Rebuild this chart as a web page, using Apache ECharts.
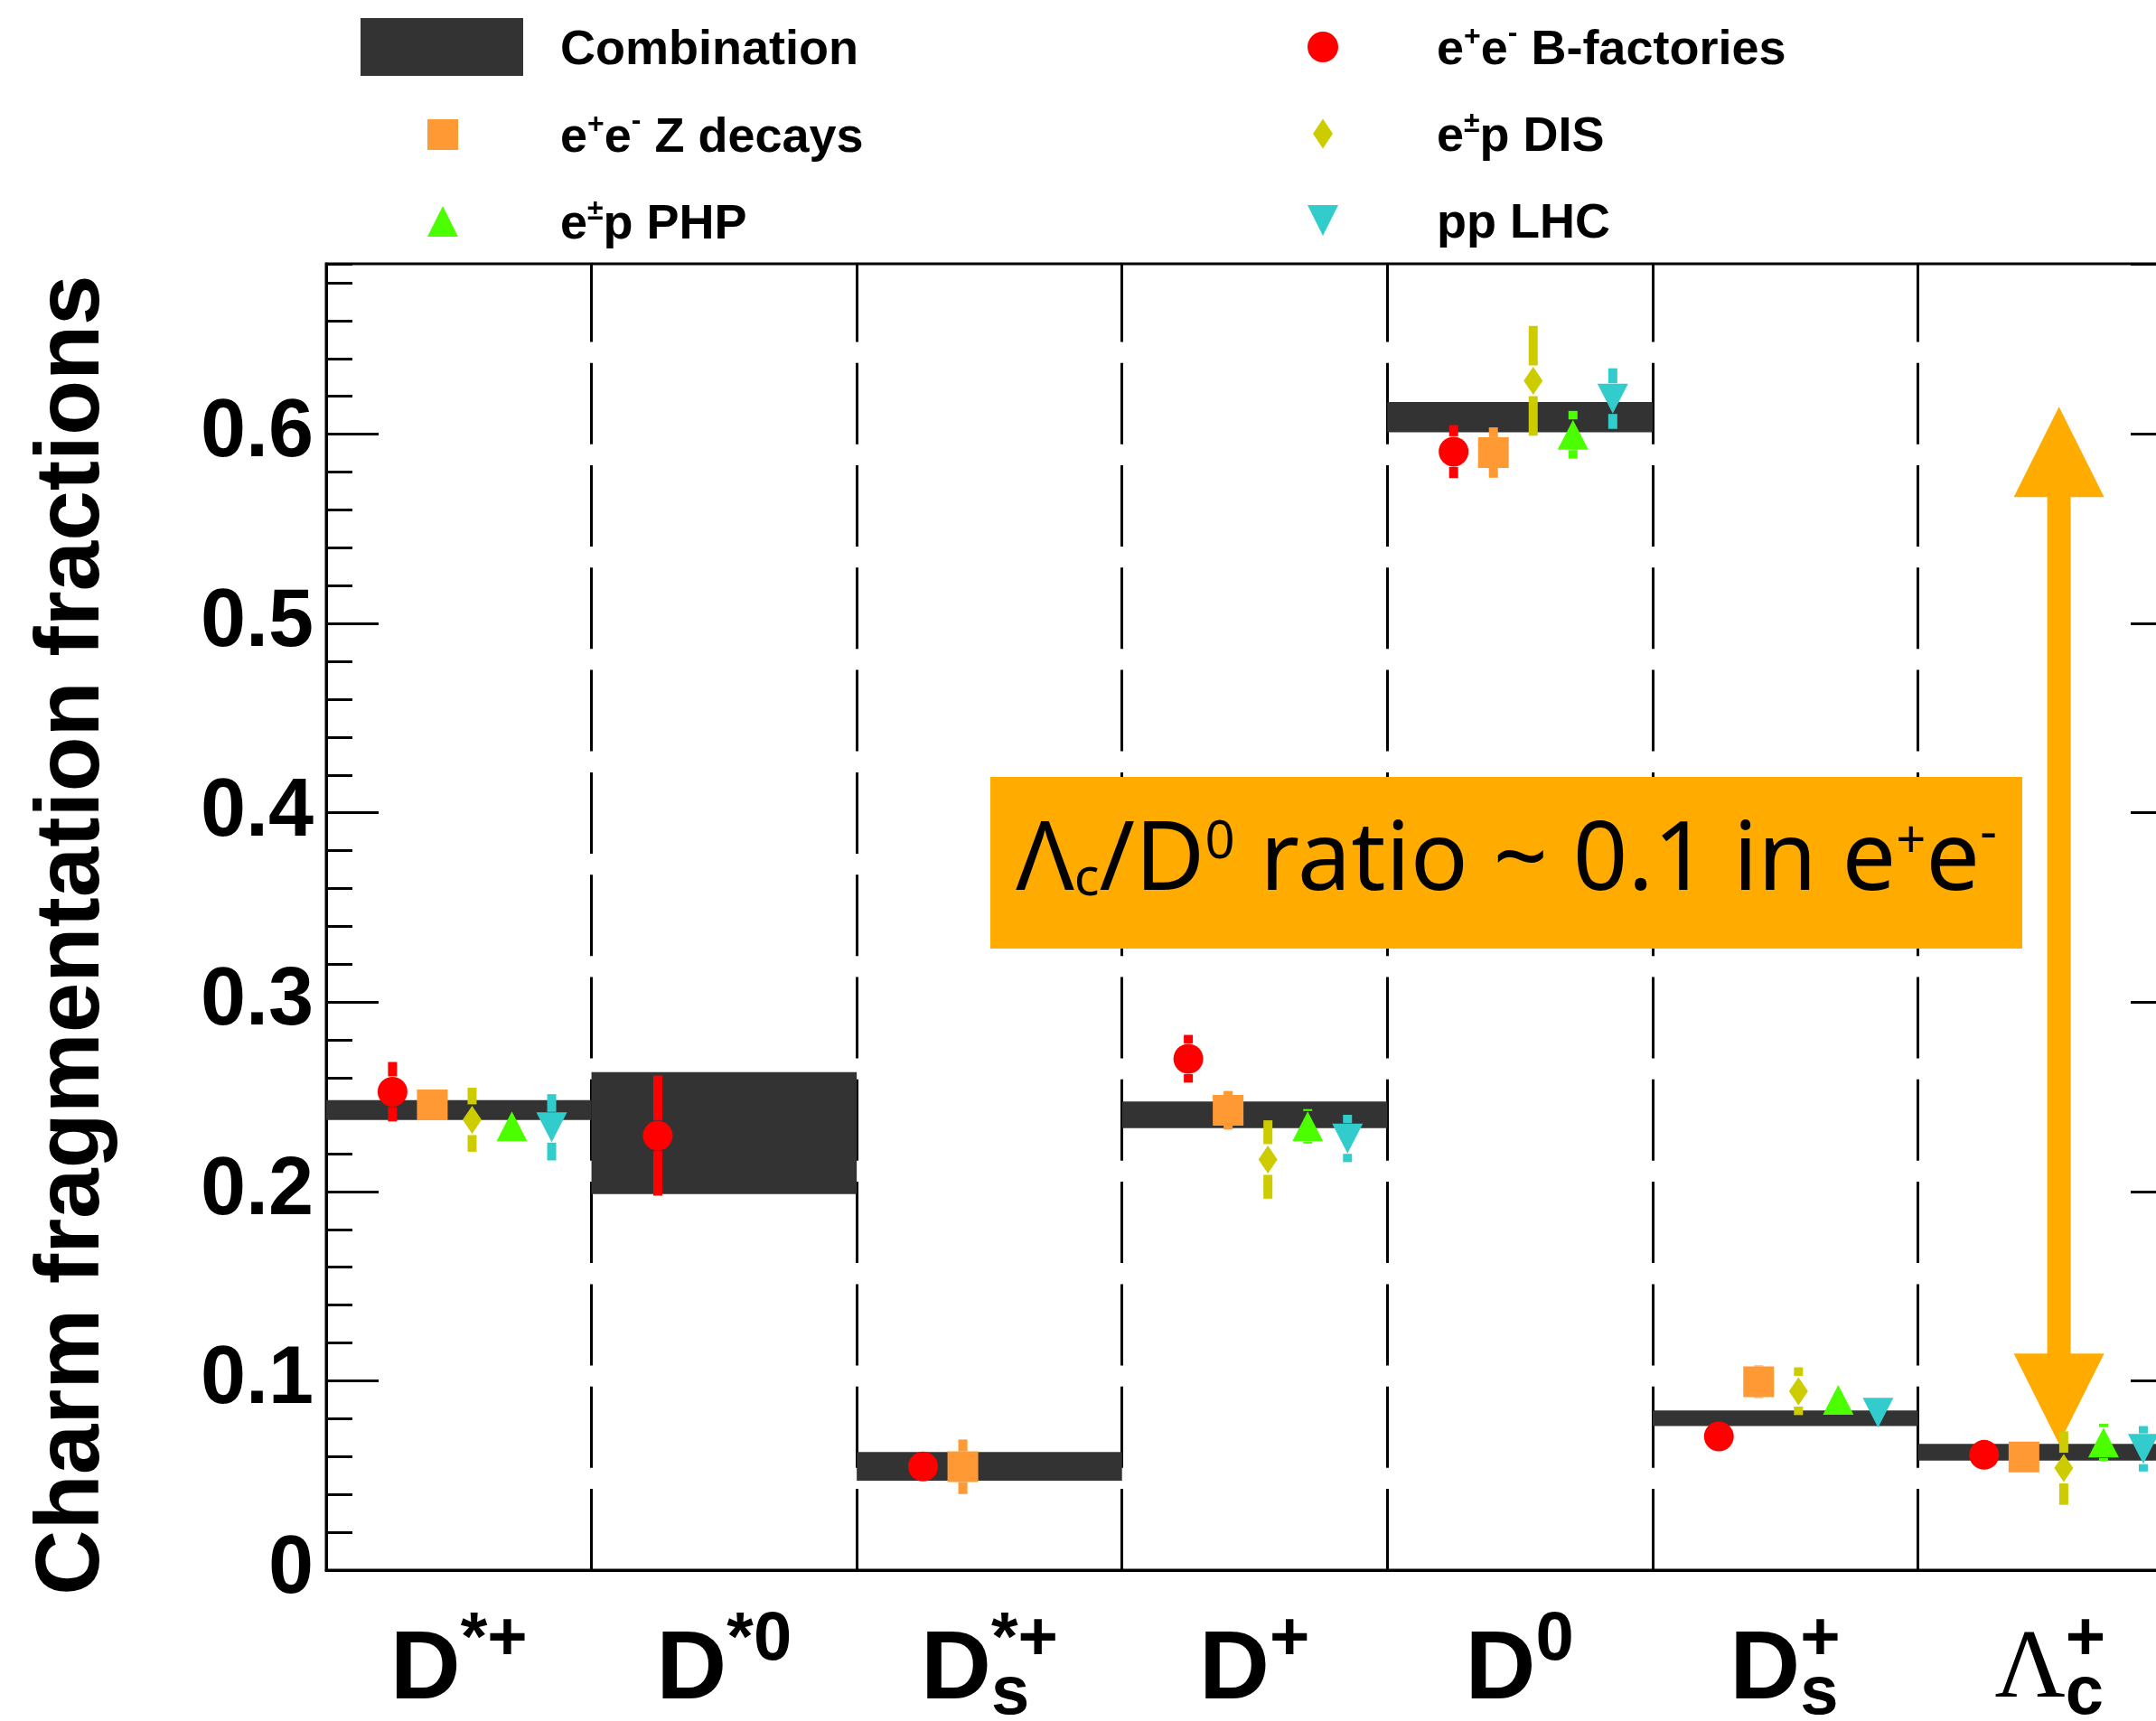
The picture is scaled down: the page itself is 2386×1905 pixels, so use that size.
<!DOCTYPE html>
<html>
<head>
<meta charset="utf-8">
<script src="https://cdn.jsdelivr.net/npm/echarts@6/dist/echarts.min.js"></script>
<style>
html,body{margin:0;padding:0;background:#ffffff;}
#c{width:2386px;height:1905px;}
</style>
</head>
<body>
<div id="c"></div>
<script>
// ---------------- data ----------------
const categories = ['D*+', 'D*0', 'Ds*+', 'D+', 'D0', 'Ds+', 'Λc+'];
const labelBase  = ['D', 'D', 'D', 'D', 'D', 'D', 'Λ'];
const labelSup   = ['*+', '*0', '*+', '+', '0', '+', '+'];
const labelSub   = ['', '', 's', '', '', 's', 'c'];

const combinationValue = [0.2430, 0.2308, 0.0548, 0.2405, 0.6090, 0.0802, 0.0623];
const combinationError = [0.0052, 0.0322, 0.0076, 0.0070, 0.0080, 0.0041, 0.0044];

const bFactoriesValue = [0.2527, 0.2295, 0.0547, 0.2701, 0.5908, 0.0706, 0.0609];
const bFactoriesError = [0.0157, 0.0317, 0.0050, 0.0126, 0.0140, 0.0040, 0.0040];
const zDecaysValue    = [0.2457, null, 0.0546, 0.2429, 0.5903, 0.0995, 0.0598];
const zDecaysError    = [0.0050, null, 0.0144, 0.0102, 0.0133, 0.0086, 0.0050];
const disValue        = [0.2379, null, null, 0.2169, 0.6282, 0.0945, 0.0539];
const disError        = [0.0169, null, null, 0.0207, 0.0290, 0.0126, 0.0194];
const phpValue        = [0.2344, null, null, 0.2344, 0.5997, 0.0899, 0.0674];
const phpError        = [0.0060, null, null, 0.0091, 0.0126, 0.0050, 0.0099];
const lhcValue        = [0.2339, null, null, 0.2280, 0.6188, 0.0831, 0.0641];
const lhcError        = [0.0175, null, null, 0.0125, 0.0160, 0.0050, 0.0120];

// Λc / D0 arrow: from the Λc level up to the D0 level
const ratioArrowRange = [0.0667, 0.6145];

const yAxisMin = 0;
const yAxisMax = 0.69;
const yMajorStep = 0.1;
const yMinorStep = 0.02;

const sourceNames  = ['e+e- B-factories', 'e+e- Z decays', 'e±p DIS', 'e±p PHP', 'pp LHC'];
const sourceLegend = ['e^{+}e^{-} B-factories', 'e^{+}e^{-} Z decays', 'e^{±}p DIS', 'e^{±}p PHP', 'pp LHC'];
const yTitle = 'Charm fragmentation fractions';

// ---------------- styling / layout ----------------
const FONT = '"Liberation Sans", Arial, Helvetica, sans-serif';
const SERIF = '"Liberation Serif", "Times New Roman", serif';
const NOTO = '"Noto Sans", "Open Sans", sans-serif';
const COL = {
  comb: '#333333', red: '#FF0000', orange: '#FF9933', olive: '#CCCC00',
  green: '#4CFF00', cyan: '#33CCCC', note: '#FFAB00'
};
const sourceColors = [COL.red, COL.orange, COL.olive, COL.green, COL.cyan];
const sourceShapes = ['circle', 'square', 'diamond', 'triangle', 'triangleDown'];
const sourceOffsets = [0.25, 0.40, 0.55, 0.70, 0.85];
const sourceValues = [bFactoriesValue, zDecaysValue, disValue, phpValue, lhcValue];
const sourceErrors = [bFactoriesError, zDecaysError, disError, phpError, lhcError];

const GRID = { left: 361, top: 292, width: 2055, height: 1446 };

// text measurement for aligning stacked super/subscripts
const mctx = document.createElement('canvas').getContext('2d');
function textWidth(t, font) { mctx.font = font; return mctx.measureText(t).width; }

// ---------------- category label rich styles ----------------
const catRich = {};
const supFontCss = 'bold 76px "Liberation Sans"';
categories.forEach((c, i) => {
  const serif = labelBase[i] === 'Λ';
  const baseStyle = serif
    ? { fontFamily: SERIF, fontWeight: 'normal', fontSize: 108 }
    : { fontFamily: FONT, fontWeight: 'bold', fontSize: 108 };
  const w = Math.ceil(Math.max(textWidth(labelSup[i], supFontCss), textWidth(labelSub[i], supFontCss), 1));
  catRich['g' + i] = Object.assign({}, baseStyle, { lineHeight: 14.6, color: 'rgba(0,0,0,0)', align: 'left' });
  catRich['m' + i] = Object.assign({}, baseStyle, { lineHeight: 53, color: '#000', align: 'left' });
  catRich['p' + i] = { fontFamily: FONT, fontWeight: 'bold', fontSize: 76, lineHeight: 14.6, width: w,
                       color: '#000', align: 'left' };
  catRich['b' + i] = { fontFamily: FONT, fontWeight: 'bold', fontSize: 76, lineHeight: 1, height: 1, width: w,
                       color: '#000', align: 'left', verticalAlign: 'bottom' };
});
function catLabel(v, i) {
  return '{g' + i + '|' + labelBase[i] + '}{p' + i + '|' + labelSup[i] + '}\n' +
         '{m' + i + '|' + labelBase[i] + '}{b' + i + '|' + labelSub[i] + '}';
}

// ---------------- legend helpers ----------------
function toRich(s) {
  return ('{t|' + s.replace(/\^\{([^}]*)\}/g, (m, g) => '}{' + (g === '-' ? 'supm' : 'sup') + '|' + g + '}{t|') + '}')
    .replace(/\{t\|\}/g, '');
}
const legendTextMap = { 'Combination': 'Combination' };
sourceNames.forEach((n, i) => { legendTextMap[n] = sourceLegend[i]; });

const LEG_H = 64;
function makeLegend(name, icon, left, top, w, pad) {
  return {
    show: true, data: [{ name: name, icon: icon }], left: left, top: top,
    itemWidth: w, itemHeight: LEG_H, padding: 0, itemGap: 0, selectedMode: false,
    orient: 'horizontal', symbolKeepAspect: true,
    itemStyle: { borderWidth: 0 },
    formatter: n => '{sp|}' + toRich(legendTextMap[n]),
    textStyle: {
      rich: {
        sp: { width: pad, lineHeight: 1, height: LEG_H, backgroundColor: 'transparent' },
        t: { fontFamily: FONT, fontWeight: 'bold', fontSize: 54, lineHeight: 29, height: 29,
             padding: [8, 0, 0, 0], color: '#000' },
        sup: { fontFamily: FONT, fontWeight: 'bold', fontSize: 32, lineHeight: 1, height: 1,
               padding: [0, 0, 22, 0], color: '#000' },
        supm: { fontFamily: FONT, fontWeight: 'bold', fontSize: 32, lineHeight: 1, height: 1,
               padding: [0, 0, 29, 0], color: '#000' }
      }
    }
  };
}
const ICON = {
  square: 'path://M0,0L10,0L10,10L0,10Z',
  triangle: 'path://M5,0L10,10L0,10Z',
  diamond: 'path://M5,0L10,7.5L5,15L0,7.5Z',
  triangleDown: 'path://M0,0L10,0L5,10Z'
};

// ---------------- marker drawing ----------------
function markerShape(shape, cx, cy, color) {
  const st = { fill: color };
  switch (shape) {
    case 'circle': return { type: 'circle', shape: { cx: cx, cy: cy, r: 16.5 }, style: st };
    case 'square': return { type: 'rect', shape: { x: cx - 17, y: cy - 17, width: 34, height: 34 }, style: st };
    case 'diamond': return { type: 'polygon', shape: { points: [[cx, cy - 15.5], [cx + 10.5, cy], [cx, cy + 15.5], [cx - 10.5, cy]] }, style: st };
    case 'triangle': return { type: 'polygon', shape: { points: [[cx, cy - 16.5], [cx + 17, cy + 16.5], [cx - 17, cy + 16.5]] }, style: st };
    default: return { type: 'polygon', shape: { points: [[cx - 17, cy - 16.5], [cx + 17, cy - 16.5], [cx, cy + 16.5]] }, style: st };
  }
}

function pointSeries(k) {
  const color = sourceColors[k], shape = sourceShapes[k], off = sourceOffsets[k];
  const data = [];
  sourceValues[k].forEach((v, i) => { if (v != null) data.push([i + off, v, sourceErrors[k][i]]); });
  return {
    type: 'custom', name: sourceNames[k], data: data, xAxisIndex: 0, yAxisIndex: 0, z: 6,
    itemStyle: { color: color }, encode: { x: 0, y: 1 }, silent: true,
    renderItem: (params, api) => {
      const x = api.value(0), y = api.value(1), e = api.value(2);
      const c = api.coord([x, y]);
      const top = api.coord([x, y + e])[1];
      const bot = api.coord([x, y - e])[1];
      const gap = 17, bw = 10;
      const children = [];
      if (c[1] - top > gap) children.push({ type: 'rect', shape: { x: c[0] - bw / 2, y: top, width: bw, height: c[1] - gap - top }, style: { fill: color } });
      if (bot - c[1] > gap) children.push({ type: 'rect', shape: { x: c[0] - bw / 2, y: c[1] + gap, width: bw, height: bot - c[1] - gap }, style: { fill: color } });
      children.push(markerShape(shape, c[0], c[1], color));
      return { type: 'group', children: children };
    }
  };
}

// ---------------- option ----------------
const series = [];
series.push({
  type: 'custom', name: 'Combination', xAxisIndex: 0, yAxisIndex: 0, z: 3, silent: true,
  itemStyle: { color: COL.comb }, encode: { x: 0, y: 1 },
  data: combinationValue.map((v, i) => [i, v, combinationError[i]]),
  renderItem: (params, api) => {
    const x = api.value(0), v = api.value(1), e = api.value(2);
    const a = api.coord([x, v + e]);
    const b = api.coord([x + 1, v - e]);
    return { type: 'rect', shape: { x: a[0], y: a[1], width: b[0] - a[0], height: b[1] - a[1] }, style: { fill: COL.comb } };
  }
});
series.push({
  type: 'custom', name: 'ratio arrow', xAxisIndex: 0, yAxisIndex: 0, z: 4, silent: true,
  itemStyle: { color: COL.note }, encode: { x: 0, y: 1 },
  data: [[6.532, ratioArrowRange[0], ratioArrowRange[1]]],
  renderItem: (params, api) => {
    const x = api.value(0);
    const b = api.coord([x, api.value(1)]);
    const t = api.coord([x, api.value(2)]);
    const hw = 50, hh = 100, sw = 13;
    return { type: 'group', children: [
      { type: 'rect', shape: { x: t[0] - sw, y: t[1] + hh - 1, width: 2 * sw, height: b[1] - t[1] - 2 * hh + 2 }, style: { fill: COL.note } },
      { type: 'polygon', shape: { points: [[t[0], t[1]], [t[0] + hw, t[1] + hh], [t[0] - hw, t[1] + hh]] }, style: { fill: COL.note } },
      { type: 'polygon', shape: { points: [[b[0], b[1]], [b[0] + hw, b[1] - hh], [b[0] - hw, b[1] - hh]] }, style: { fill: COL.note } }
    ] };
  }
});
for (let k = 0; k < 5; k++) series.push(pointSeries(k));

function yAxisDef(pos, step, tickLen, withLabels, withLine) {
  const ax = {
    type: 'value', position: pos, min: yAxisMin, max: yAxisMax, interval: step, gridIndex: 0,
    axisLine: { show: withLine, onZero: false, lineStyle: { color: '#000', width: 3 } },
    axisTick: { show: true, inside: true, length: tickLen, lineStyle: { color: '#000', width: 3 } },
    splitLine: { show: false },
    axisLabel: { show: withLabels, showMaxLabel: false, margin: 14, color: '#000',
      fontFamily: FONT, fontWeight: 'bold', fontSize: 90, padding: [8, 0, 0, 0],
      formatter: v => (Math.abs(v) < 1e-9 ? '0' : String(+v.toFixed(2))) }
  };
  if (withLabels) {
    Object.assign(ax, {
      name: yTitle, nameLocation: 'middle', nameGap: 230, nameRotate: 90, nameMoveOverlap: false,
      nameTextStyle: { fontFamily: FONT, fontWeight: 'bold', fontSize: 100, color: '#000', padding: [0, 40, 0, 0] }
    });
  }
  return ax;
}

const option = {
  animation: false,
  backgroundColor: '#ffffff',
  textStyle: { fontFamily: FONT },
  grid: Object.assign({ show: true, borderColor: '#000', borderWidth: 3, backgroundColor: 'transparent',
                        containLabel: false, outerBoundsMode: 'none' }, GRID),
  legend: [
    makeLegend('Combination', 'rect', 399, 20, 180, 36),
    makeLegend(sourceNames[1], ICON.square, 473, 117, 34, 108),
    makeLegend(sourceNames[3], ICON.triangle, 473, 213, 34, 108),
    makeLegend(sourceNames[0], 'circle', 1447, 20, 34, 104),
    makeLegend(sourceNames[2], ICON.diamond, 1453, 116, 22, 110),
    makeLegend(sourceNames[4], ICON.triangleDown, 1447, 212, 34, 104)
  ],
  xAxis: [
    {
      type: 'value', position: 'bottom', min: 0, max: 7, interval: 1, gridIndex: 0,
      axisLine: { show: true, onZero: false, lineStyle: { color: '#000', width: 3 } },
      axisTick: { show: false }, axisLabel: { show: false },
      splitLine: { show: true, lineStyle: { color: '#000', width: 3, type: [90, 23.3], dashOffset: 3.6 } }
    },
    {
      type: 'category', position: 'bottom', data: categories, gridIndex: 0, boundaryGap: true,
      axisLine: { show: false }, axisTick: { show: false }, splitLine: { show: false },
      axisLabel: { show: true, interval: 0, hideOverlap: false, margin: 71, formatter: catLabel, rich: catRich }
    }
  ],
  yAxis: [
    yAxisDef('left', yMajorStep, 58, true, true),
    yAxisDef('left', yMinorStep, 29, false, false),
    yAxisDef('right', yMajorStep, 58, false, true),
    yAxisDef('right', yMinorStep, 29, false, false)
  ],
  series: series,
  graphic: [
    { type: 'rect', left: 1096, top: 860, z: 100, shape: { width: 1142, height: 190 }, style: { fill: COL.note } },
    { type: 'text', x: 1667, y: 955, z: 101, style: {
        text: '{t|Λ}{sb|c}{t|/D}{sp|0}{t| ratio ~ 0.1 in e}{sp|+}{t|e}{spm|-}',
        align: 'center', verticalAlign: 'middle', fill: '#000',
        rich: {
          t:   { fontFamily: NOTO, fontSize: 106, lineHeight: 39, height: 39, fill: '#000' },
          sp:  { fontFamily: NOTO, fontSize: 58, lineHeight: 1, height: 1, padding: [0, 0, 43, 0], fill: '#000' },
          spm: { fontFamily: NOTO, fontSize: 58, lineHeight: 1, height: 1, padding: [0, 0, 64, 0], fill: '#000' },
          sb:  { fontFamily: NOTO, fontSize: 58, lineHeight: 1, height: 1, padding: [39, 0, 0, 0], fill: '#000' }
        }
    } }
  ]
};

const chart = echarts.init(document.getElementById('c'), null, { renderer: 'canvas', width: 2386, height: 1905 });
chart.setOption(option);
</script>
</body>
</html>
